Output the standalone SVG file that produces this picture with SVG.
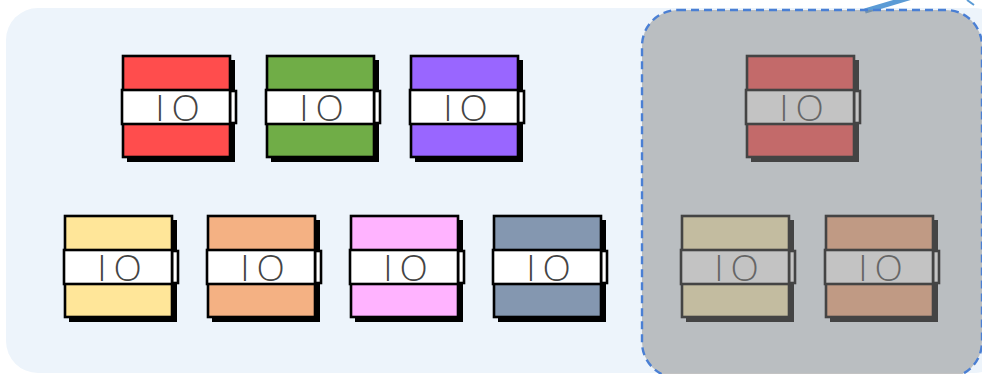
<svg xmlns="http://www.w3.org/2000/svg" width="982" height="374" viewBox="0 0 982 374">
<defs>
<style>
.sh{fill:#000}
.body{stroke:#000;stroke-width:2.6}
.band{fill:#fff;stroke:#000;stroke-width:2.6}
.lbl{font-family:"Open Sans","Liberation Sans",Arial,sans-serif;font-weight:350;font-size:37px;fill:#444;text-anchor:middle;letter-spacing:7px}
</style>
<g id="io-template">
<rect class="sh" x="4" y="4" width="108" height="102"/>
<rect class="body" x="0" y="0" width="107" height="101"/>
<rect class="band" x="107" y="35" width="6" height="32"/>
<rect class="band" x="-1" y="34" width="108" height="34"/>
<text class="lbl" x="58" y="65">IO</text>
</g>
</defs>
<rect id="bg" x="6" y="8" width="1000" height="365" rx="32" fill="#EDF4FB"/>
<g id="connectors">
<path d="M865 11 L912 -3" stroke="#5B9BD5" stroke-width="5" fill="none"/>
<path d="M967 0 L974 5" stroke="#5B9BD5" stroke-width="2" fill="none"/>
</g>
<g id="n-red" transform="translate(123,56)" fill="#FF4D4D"><use href="#io-template"/></g>
<g id="n-green" transform="translate(267,56)" fill="#70AD47"><use href="#io-template"/></g>
<g id="n-purple" transform="translate(411,56)" fill="#9966FF"><use href="#io-template"/></g>
<g id="n-yellow" transform="translate(65,216)" fill="#FFE699"><use href="#io-template"/></g>
<g id="n-orange" transform="translate(208,216)" fill="#F4B183"><use href="#io-template"/></g>
<g id="n-pink" transform="translate(351,216)" fill="#FFB3FF"><use href="#io-template"/></g>
<g id="n-slate" transform="translate(494,216)" fill="#8497B0"><use href="#io-template"/></g>
<g id="n-red2" transform="translate(747,56)" fill="#FF4D4D"><use href="#io-template"/></g>
<g id="n-khaki" transform="translate(682,216)" fill="#FFF0B8"><use href="#io-template"/></g>
<g id="n-brown" transform="translate(826,216)" fill="#F8AC80"><use href="#io-template"/></g>
<g id="disabled-panel">
<rect x="642" y="10" width="340" height="368" rx="36" fill="#888888" fill-opacity="0.5" stroke="#4A7FD4" stroke-width="2.4" stroke-dasharray="8 5"/>
</g>
</svg>
